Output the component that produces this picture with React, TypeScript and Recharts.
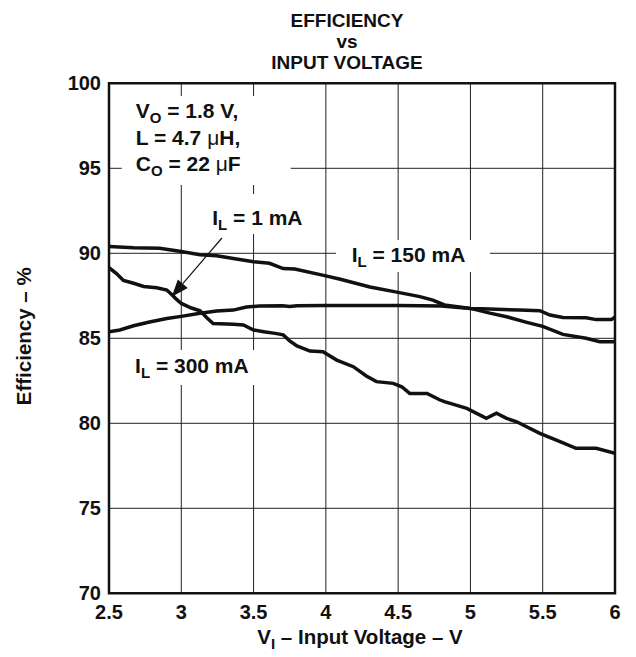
import React from "react";
import {
  LineChart,
  Line,
  XAxis,
  YAxis,
  CartesianGrid,
  ReferenceArea,
  ReferenceLine,
  Customized,
} from "recharts";

// ---- data ----
const xTicks = [2.5, 3, 3.5, 4, 4.5, 5, 5.5, 6];
const yTicks = [70, 75, 80, 85, 90, 95, 100];

const vin150 = [2.5, 2.67, 2.85, 3.0, 3.13, 3.245, 3.36, 3.5, 3.61, 3.705, 3.785, 4.0, 4.1, 4.305, 4.5, 4.65, 4.74, 4.82, 5.0, 5.135, 5.25, 5.39, 5.5, 5.64, 5.8, 5.895, 6.0];
const eff150 = [90.4, 90.33, 90.3, 90.1, 89.92, 89.86, 89.7, 89.5, 89.41, 89.1, 89.07, 88.67, 88.47, 88.02, 87.7, 87.45, 87.25, 86.96, 86.76, 86.48, 86.27, 85.94, 85.7, 85.23, 85.0, 84.8, 84.8];

const vin300 = [2.5, 2.575, 2.67, 2.78, 2.9, 3.0, 3.13, 3.245, 3.36, 3.45, 3.54, 3.7, 3.75, 3.8, 4.0, 4.5, 4.8, 5.0, 5.135, 5.34, 5.48, 5.55, 5.64, 5.8, 5.87, 5.975, 6.0];
const eff300 = [85.39, 85.49, 85.74, 85.96, 86.16, 86.29, 86.47, 86.6, 86.66, 86.84, 86.9, 86.92, 86.87, 86.92, 86.93, 86.93, 86.9, 86.76, 86.72, 86.66, 86.62, 86.37, 86.22, 86.21, 86.1, 86.1, 86.25];

const vin1 = [2.5, 2.55, 2.6, 2.67, 2.74, 2.83, 2.9, 2.93, 2.96, 3.0, 3.07, 3.13, 3.175, 3.22, 3.36, 3.43, 3.5, 3.57, 3.65, 3.705, 3.75, 3.8, 3.89, 3.98, 4.075, 4.19, 4.28, 4.35, 4.466, 4.525, 4.58, 4.7, 4.79, 4.82, 4.975, 5.11, 5.18, 5.25, 5.32, 5.48, 5.62, 5.73, 5.87, 6.0];
const eff1 = [89.15, 88.82, 88.4, 88.24, 88.05, 87.97, 87.84, 87.6, 87.35, 87.05, 86.78, 86.62, 86.22, 85.87, 85.82, 85.78, 85.49, 85.39, 85.29, 85.2, 84.85, 84.55, 84.25, 84.21, 83.72, 83.33, 82.78, 82.45, 82.35, 82.15, 81.76, 81.76, 81.37, 81.27, 80.88, 80.29, 80.59, 80.29, 80.09, 79.41, 78.92, 78.53, 78.53, 78.24];

const toPts = (xs: number[], ys: number[]) => xs.map((x, i) => ({ x, y: ys[i] }));
const d150 = toPts(vin150, eff150);
const d300 = toPts(vin300, eff300);
const d1 = toPts(vin1, eff1);

// ---- styles ----
const FONT = "'Liberation Sans', Arial, Helvetica, sans-serif";
const INK = "#111";

const textProps = {
  fontFamily: FONT,
  fontSize: 21,
  fontWeight: 700,
  fill: INK,
};

const Sub = ({ base, sub, rest }: { base: string; sub: string; rest: React.ReactNode }) => (
  <>
    <tspan>{base}</tspan>
    <tspan dy={5} fontSize={15}>{sub}</tspan>
    <tspan dy={-5}>{rest}</tspan>
  </>
);

const mu = <tspan fontWeight={400}>μ</tspan>;

const annotationLabel = (p: any) => {
  const vb = p.viewBox || {};
  const x = vb.x + 14;
  return (
    <g>
      <text {...textProps} x={x} y={vb.y + 22}>
        <Sub base="V" sub="O" rest=" = 1.8 V," />
      </text>
      <text {...textProps} x={x} y={vb.y + 49}>
        L = 4.7 {mu}H,
      </text>
      <text {...textProps} x={x} y={vb.y + 75}>
        <Sub base="C" sub="O" rest={<>{" = 22 "}{mu}F</>} />
      </text>
    </g>
  );
};

const makeLabel = (txt: string, dx: number, dy: number) => (p: any) => {
  const vb = p.viewBox || {};
  return (
    <text {...textProps} x={vb.x + dx} y={vb.y + dy}>
      <Sub base="I" sub="L" rest={txt} />
    </text>
  );
};

const ArrowShape = (p: any) => {
  const { x1, y1, x2, y2 } = p;
  if ([x1, y1, x2, y2].some((v) => typeof v !== "number" || isNaN(v))) return <g />;
  const dx = x2 - x1;
  const dy = y2 - y1;
  const len = Math.sqrt(dx * dx + dy * dy);
  const ux = dx / len;
  const uy = dy / len;
  const hl = 17;
  const hw = 6.5;
  const bx = x2 - ux * hl;
  const by = y2 - uy * hl;
  const pts = `${x2},${y2} ${bx - uy * hw},${by + ux * hw} ${bx + uy * hw},${by - ux * hw}`;
  return (
    <g>
      <line x1={x1} y1={y1} x2={bx} y2={by} stroke={INK} strokeWidth={1.2} />
      <polygon points={pts} fill={INK} />
    </g>
  );
};

const Title = () => (
  <g>
    <text {...textProps} fontSize={19} x={339} y={18.5} textAnchor="middle">EFFICIENCY</text>
    <text {...textProps} fontSize={19} x={339} y={39.5} textAnchor="middle">vs</text>
    <text {...textProps} fontSize={19} x={339} y={60.5} textAnchor="middle">INPUT VOLTAGE</text>
  </g>
);

const yLabel = (p: any) => {
  const vb = p.viewBox || {};
  const cx = vb.x + 10;
  const cy = vb.y + vb.height / 2 - 2;
  return (
    <text {...textProps} fontSize={20.5} x={cx} y={cy} textAnchor="middle" dominantBaseline="central" transform={`rotate(-90 ${cx} ${cy})`}>
      Efficiency – %
    </text>
  );
};

const xLabel = (p: any) => {
  const vb = p.viewBox || {};
  const cx = vb.x + vb.width / 2 - 2;
  return (
    <text {...textProps} fontSize={20.5} x={cx} y={vb.y + 51} textAnchor="middle">
      <Sub base="V" sub="I" rest=" – Input Voltage – V" />
    </text>
  );
};

export default function App() {
  return (
    <div style={{ width: 628, height: 649 }}>
      <LineChart width={628} height={649} margin={{ top: 75.3, right: 21, bottom: 23.7, left: 6 }}>
        <CartesianGrid stroke="#222" strokeWidth={1} />
        <XAxis
          type="number"
          dataKey="x"
          domain={[2.5, 6]}
          ticks={xTicks}
          allowDataOverflow
          height={40}
          axisLine={false}
          tickLine={false}
          tickMargin={5}
          tick={{ ...textProps, fontSize: 20 }}
          label={xLabel}
        />
        <YAxis
          type="number"
          dataKey="y"
          domain={[70, 100]}
          ticks={yTicks}
          allowDataOverflow
          width={95}
          axisLine={false}
          tickLine={false}
          tick={{ ...textProps, fontSize: 20 }}
          label={yLabel}
        />
        <ReferenceArea x1={2.588} x2={3.757} y1={94.02} y2={99.25} fill="#fff" fillOpacity={1} stroke="none" label={annotationLabel} />
        <ReferenceArea x1={3.133} x2={3.949} y1={91.14} y2={93.49} fill="#fff" fillOpacity={1} stroke="none" label={makeLabel(" = 1 mA", 11.7, 31)} />
        <ReferenceArea x1={4.07} x2={5.135} y1={88.9} y2={90.78} fill="#fff" fillOpacity={1} stroke="none" label={makeLabel(" = 150 mA", 15.7, 21.7)} />
        <ReferenceArea x1={2.611} x2={3.53} y1={82.25} y2={84.31} fill="#fff" fillOpacity={1} stroke="none" label={makeLabel(" = 300 mA", 10, 23.3)} />
        <Line data={d150} dataKey="y" name="150 mA" type="linear" stroke={INK} strokeWidth={3.5} dot={false} isAnimationActive={false} />
        <Line data={d300} dataKey="y" name="300 mA" type="linear" stroke={INK} strokeWidth={3.5} dot={false} isAnimationActive={false} />
        <Line data={d1} dataKey="y" name="1 mA" type="linear" stroke={INK} strokeWidth={3.5} dot={false} isAnimationActive={false} />
        <ReferenceLine segment={[{ x: 3.281, y: 90.9 }, { x: 2.934, y: 87.45 }]} shape={ArrowShape} />
        <ReferenceArea x1={2.5} x2={6} y1={70} y2={100} fill="none" stroke={INK} strokeWidth={2.5} />
        <Customized component={Title} />
      </LineChart>
    </div>
  );
}
